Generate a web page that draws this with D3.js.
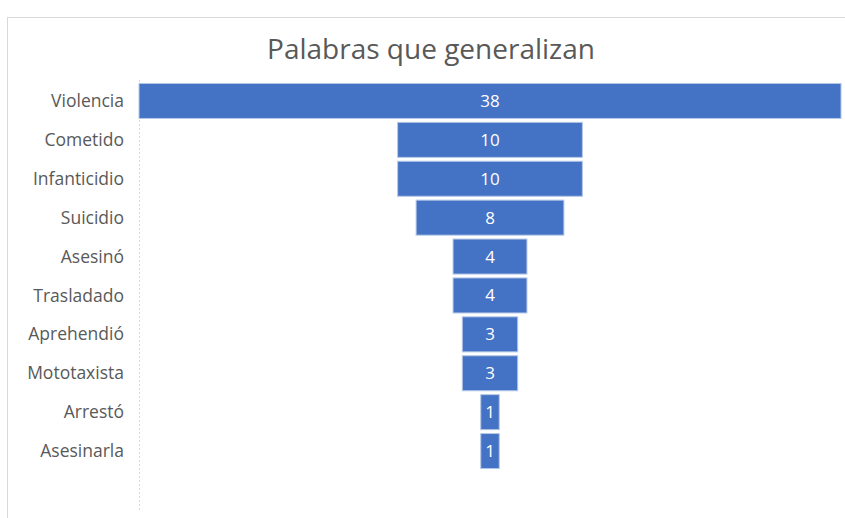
<!DOCTYPE html>
<html>
<head>
<meta charset="utf-8">
<script src="https://cdn.jsdelivr.net/npm/d3@7"></script>
<style>
  body { margin: 0; background: #fff; }
  svg text { font-family: "Open Sans", "Noto Sans", sans-serif; }
</style>
</head>
<body>
<svg id="chart" width="845" height="518"></svg>
<script>
const words = ['Violencia', 'Cometido', 'Infanticidio', 'Suicidio', 'Asesinó',
  'Trasladado', 'Aprehendió', 'Mototaxista', 'Arrestó', 'Asesinarla']
const counts = [38, 10, 10, 8, 4, 4, 3, 3, 1, 1]

const svg = d3.select('#chart')
const center = 490
const half = 351

// chart frame (top and left edges visible)
svg.append('line').attr('x1', 8).attr('x2', 845).attr('y1', 17.5).attr('y2', 17.5)
  .attr('stroke', '#d9d9d9')
svg.append('line').attr('x1', 7.5).attr('x2', 7.5).attr('y1', 17).attr('y2', 518)
  .attr('stroke', '#d9d9d9')

svg.append('text')
  .attr('x', 431).attr('y', 59)
  .attr('text-anchor', 'middle')
  .attr('font-size', 28)
  .attr('fill', '#595959')
  .text('Palabras que generalizan')

const y = d3.scaleBand().domain(words).range([81.5, 470.5]).paddingInner(0.1).paddingOuter(0.05)
const w = d3.scaleLinear().domain([0, d3.max(counts)]).range([0, half * 2])

// dotted category axis
svg.append('line').attr('x1', 139.5).attr('x2', 139.5).attr('y1', 80).attr('y2', 510)
  .attr('stroke', '#d9d9d9').attr('stroke-dasharray', '2,2')

const data = words.map((d, i) => ({ word: d, value: counts[i] }))

svg.selectAll('rect.bar')
  .data(data)
  .enter()
  .append('rect')
  .attr('class', 'bar')
  .attr('x', d => center - w(d.value) / 2)
  .attr('y', d => y(d.word))
  .attr('width', d => w(d.value))
  .attr('height', y.bandwidth())
  .attr('fill', '#4472c4')
  .attr('stroke', '#b4c7e7')
  .attr('stroke-width', 1)

svg.selectAll('text.val')
  .data(data)
  .enter()
  .append('text')
  .attr('class', 'val')
  .attr('x', center)
  .attr('y', d => y(d.word) + y.bandwidth() / 2)
  .attr('dy', '0.35em')
  .attr('text-anchor', 'middle')
  .attr('font-size', 17)
  .attr('fill', '#fff')
  .text(d => d.value)

svg.selectAll('text.lbl')
  .data(data)
  .enter()
  .append('text')
  .attr('class', 'lbl')
  .attr('x', 124)
  .attr('y', d => y(d.word) + y.bandwidth() / 2)
  .attr('dy', '0.35em')
  .attr('text-anchor', 'end')
  .attr('font-size', 17.5)
  .attr('fill', '#595959')
  .text(d => d.word)
</script>
</body>
</html>
